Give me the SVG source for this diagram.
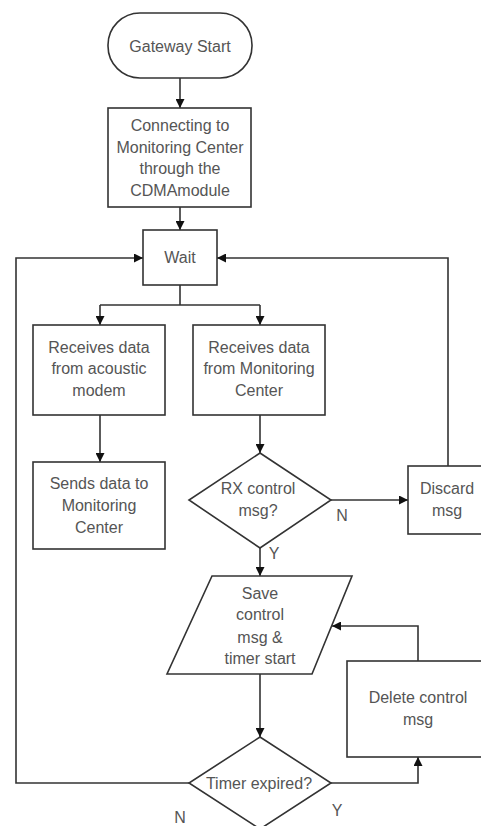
<svg xmlns="http://www.w3.org/2000/svg" width="481" height="826" viewBox="0 0 481 826">
<style>
.n{fill:#fff;stroke:#333;stroke-width:1.6}
.t{font-family:"Liberation Sans",Arial,sans-serif;font-size:16px;fill:#555;text-anchor:middle}
.c{fill:none;stroke:#333;stroke-width:1.6}
</style>
<defs>
<marker id="ah" viewBox="0 0 10 10" refX="10" refY="5" markerWidth="9" markerHeight="9" markerUnits="userSpaceOnUse" orient="auto">
<path d="M0,0 L10,5 L0,10 Z" fill="#111"/>
</marker>
</defs>
<rect width="481" height="826" fill="#fff"/>
<g id="connectors">
<path class="c" d="M180,78 V108" marker-end="url(#ah)"/>
<path class="c" d="M180,207 V230" marker-end="url(#ah)"/>
<path class="c" d="M180,285 V305 M100,305 H260"/>
<path class="c" d="M100,305 V325" marker-end="url(#ah)"/>
<path class="c" d="M260,305 V325" marker-end="url(#ah)"/>
<path class="c" d="M100,415 V462" marker-end="url(#ah)"/>
<path class="c" d="M260,415 V453" marker-end="url(#ah)"/>
<path class="c" d="M331,500 H408" marker-end="url(#ah)"/>
<path class="c" d="M448,466 V258 H217" marker-end="url(#ah)"/>
<path class="c" d="M260,548 V576" marker-end="url(#ah)"/>
<path class="c" d="M260,674 V737" marker-end="url(#ah)"/>
<path class="c" d="M189,783 H16 V258 H143" marker-end="url(#ah)"/>
<path class="c" d="M331,783 H418 V757" marker-end="url(#ah)"/>
<path class="c" d="M418,661 V626 H332" marker-end="url(#ah)"/>
<text class="t" x="342" y="521">N</text>
<text class="t" x="274" y="559">Y</text>
<text class="t" x="180" y="823">N</text>
<text class="t" x="337" y="816">Y</text>
</g>
<g id="start">
<rect class="n" x="108" y="13" width="144" height="65" rx="32" ry="32"/>
<text class="t" x="180" y="52">Gateway Start</text>
</g>
<g id="connect">
<rect class="n" x="108" y="108" width="143" height="99"/>
<text class="t" x="180" y="130.5">Connecting to</text>
<text class="t" x="180" y="152.5">Monitoring Center</text>
<text class="t" x="180" y="173.5">through the</text>
<text class="t" x="180" y="195.5">CDMAmodule</text>
</g>
<g id="wait">
<rect class="n" x="143" y="230" width="74" height="55"/>
<text class="t" x="180" y="263">Wait</text>
</g>
<g id="recv-acoustic">
<rect class="n" x="33" y="325" width="132" height="90"/>
<text class="t" x="99" y="353">Receives data</text>
<text class="t" x="99" y="374">from acoustic</text>
<text class="t" x="99" y="396">modem</text>
</g>
<g id="recv-center">
<rect class="n" x="193" y="325" width="132" height="90"/>
<text class="t" x="259" y="353">Receives data</text>
<text class="t" x="259" y="374">from Monitoring</text>
<text class="t" x="259" y="396">Center</text>
</g>
<g id="sends">
<rect class="n" x="33" y="462" width="132" height="87"/>
<text class="t" x="99" y="489">Sends data to</text>
<text class="t" x="99" y="511">Monitoring</text>
<text class="t" x="99" y="533">Center</text>
</g>
<g id="rx-decision">
<polygon class="n" points="260,453 331,500 260,548 189,500"/>
<text class="t" x="258" y="494">RX control</text>
<text class="t" x="258" y="516">msg?</text>
</g>
<g id="discard">
<rect class="n" x="408" y="466" width="90" height="68"/>
<text class="t" x="447" y="494">Discard</text>
<text class="t" x="447" y="516">msg</text>
</g>
<g id="save">
<polygon class="n" points="212,576 352,576 312,674 167,674"/>
<text class="t" x="260" y="599">Save</text>
<text class="t" x="260" y="620">control</text>
<text class="t" x="260" y="643">msg &amp;</text>
<text class="t" x="260" y="664">timer start</text>
</g>
<g id="timer-decision">
<polygon class="n" points="260,737 331,783 260,829 189,783"/>
<text class="t" x="259" y="789">Timer expired?</text>
</g>
<g id="delete">
<rect class="n" x="347" y="661" width="150" height="96"/>
<text class="t" x="418" y="703">Delete control</text>
<text class="t" x="418" y="725">msg</text>
</g>
</svg>
